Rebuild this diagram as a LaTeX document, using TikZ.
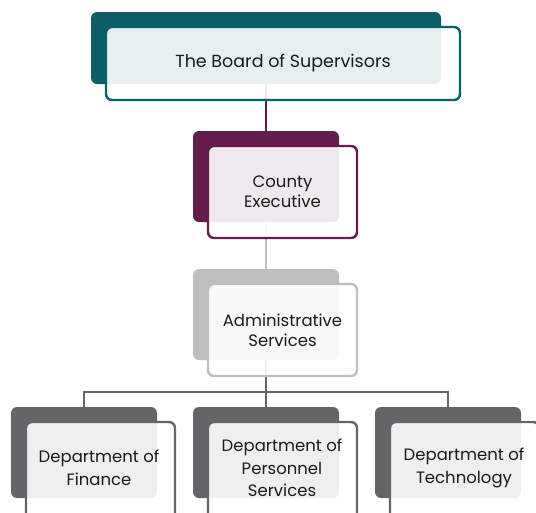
\documentclass[tikz,border=0pt]{standalone}
\usepackage{fontspec}
\newfontfamily\orgfont{Poppins}
\definecolor{teal1}{HTML}{0E5E66}
\definecolor{plum1}{HTML}{641C4C}
\definecolor{gray1}{HTML}{BFBFBF}
\definecolor{gray2}{HTML}{646569}
\definecolor{ink}{HTML}{1A1A1A}
\tikzset{
  backbox/.style={rectangle, rounded corners=6pt, minimum width=146pt,
    minimum height=91pt, anchor=north west, inner sep=0pt, outer sep=0pt,
    draw=none},
  frontbox/.style={rectangle, rounded corners=6pt, minimum width=149pt,
    minimum height=92pt, anchor=north west, inner sep=0pt, outer sep=0pt,
    fill=white, fill opacity=0.9, text opacity=1, line width=2.4pt,
    align=center, text=ink, font=\orgfont\fontsize{16.5}{20}\selectfont},
  label/.style={align=center, text=ink, font=\orgfont\fontsize{16.5}{22.5}\selectfont},
  link/.style={line width=2.4pt},
}
\begin{document}
\begin{tikzpicture}[x=1pt,y=-1pt]
\useasboundingbox (0,0) rectangle (536,512);
\clip (0,0) rectangle (536,512);

% back plates (named first so connectors can refer to them)
\node[backbox, minimum width=350pt, minimum height=72pt] (bb) at (91,12) {};
\node[backbox] (cb) at (193,131) {};
\node[backbox] (ab) at (193,269) {};
\node[backbox] (d1b) at (11,407) {};
\node[backbox] (d2b) at (193,407) {};
\node[backbox] (d3b) at (375,407) {};
\coordinate (bar) at (266,392);

% connectors run behind the boxes
\draw[link, plum1] (bb.south) -- (cb.north);
\draw[link, gray1] (cb.south) -- (ab.north);
\draw[link, gray2] (ab.south) -- (d2b.north);
\draw[link, gray2] (d1b.north) -- (d1b.north |- bar) -- (d3b.north |- bar) -- (d3b.north);

% coloured plates
\fill[teal1, rounded corners=6pt] (bb.north west) rectangle (bb.south east);
\fill[plum1, rounded corners=6pt] (cb.north west) rectangle (cb.south east);
\fill[gray1, rounded corners=6pt] (ab.north west) rectangle (ab.south east);
\fill[gray2, rounded corners=6pt] (d1b.north west) rectangle (d1b.south east);
\fill[gray2, rounded corners=6pt] (d2b.north west) rectangle (d2b.south east);
\fill[gray2, rounded corners=6pt] (d3b.north west) rectangle (d3b.south east);

% front cards with the labels
\node[frontbox, draw=teal1, minimum width=354pt, minimum height=73pt] (board) at (106,27) {};
\node[label, font=\orgfont\fontsize{17.5}{20}\selectfont] (boardt) at (283,63) {The Board of Supervisors};
\node[frontbox, draw=plum1] (county) at (208,146) {County\\Executive};
\node[frontbox, draw=gray1] (admin) at (208,284) {Administrative\\Services};
\node[frontbox, draw=gray2, minimum height=100pt] (fin) at (26,422) {};
\node[frontbox, draw=gray2, minimum height=100pt] (pers) at (208,422) {};
\node[frontbox, draw=gray2, minimum height=100pt] (tech) at (390,422) {};
\node[label] (fint) at (99,468) {Department of\\Finance};
\node[label] (perst) at (282,468) {Department of\\Personnel\\Services};
\node[label] (techt) at (464,468) {Department of\\Technology};
\end{tikzpicture}
\end{document}
